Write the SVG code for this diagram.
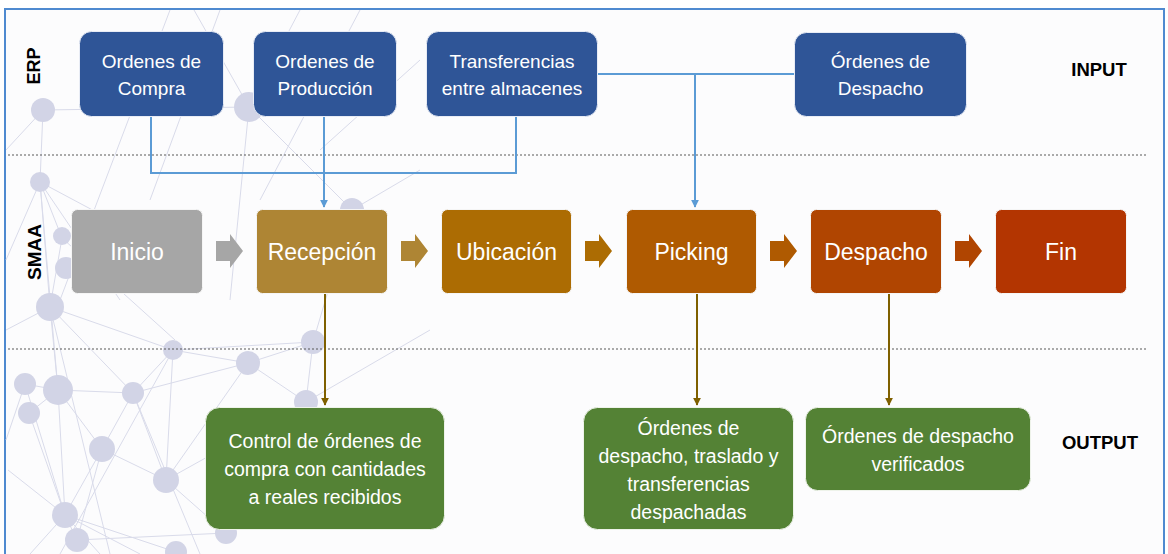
<svg xmlns="http://www.w3.org/2000/svg" width="1168" height="554" viewBox="0 0 1168 554">
  <defs>
    <style>
      .bg-line { stroke: #d9dbea; stroke-width: 1; fill: none; }
      .bg-node { fill: #d2d4e6; }
      .erp rect { fill: #2f5597; stroke: #e8ecf5; stroke-width: 1; }
      .out rect { fill: #548235; stroke: #eef3ea; stroke-width: 1; }
      .step rect { stroke: #f5f5f5; stroke-width: 1; }
      .t { font-family: "Liberation Sans", Arial, sans-serif; fill: #ffffff; text-anchor: middle; }
      .t19 { font-size: 19px; }
      .t23 { font-size: 23px; }
      .t195 { font-size: 19.5px; }
      .lbl { font-family: "Liberation Sans", Arial, sans-serif; font-weight: bold; fill: #000000; text-anchor: middle; }
      .blue { stroke: #5b9bd5; stroke-width: 2; fill: none; }
      .brown { stroke: #7f6000; stroke-width: 2; fill: none; }
      .dash { stroke: #595959; stroke-width: 1.2; stroke-dasharray: 2 2; fill: none; }
    </style>
    <marker id="arrBlue" viewBox="0 0 10 10" refX="9" refY="5" markerWidth="4" markerHeight="4.5" orient="auto" markerUnits="strokeWidth">
      <path d="M0,0 L10,5 L0,10 Z" fill="#5b9bd5"/>
    </marker>
    <marker id="arrBrown" viewBox="0 0 10 10" refX="9" refY="5" markerWidth="4" markerHeight="4.5" orient="auto" markerUnits="strokeWidth">
      <path d="M0,0 L10,5 L0,10 Z" fill="#7f6000"/>
    </marker>
    <path id="blockArrow" d="M0,-10 H14 V-17 L27,0 L14,17 V10 H0 Z"/>
  </defs>

  <!-- background -->
  <rect x="0" y="0" width="1168" height="554" fill="#ffffff"/>
  <rect x="5" y="9" width="1159" height="560" fill="#fcfcfd" stroke="#4f8ad0" stroke-width="2"/>

  <g id="background-network">
    <path class="bg-line" d="M43,110 L249,107 M43,110 L40,182 M43,110 L6,150 M249,107 L194,10 M249,107 L300,10 M249,107 L352,210 M249,107 L230,300 M40,182 L62,238 M40,182 L50,307 M40,182 L58,390 M40,182 L130,230 M62,238 L50,307 M50,307 L58,390 M50,307 L133,393 M50,307 L173,350 M50,307 L6,330 M25,384 L58,390 M58,390 L29,413 M58,390 L133,393 M58,390 L102,449 M58,390 L65,515 M29,413 L65,515 M133,393 L173,350 M133,393 L102,449 M133,393 L248,363 M173,350 L248,363 M173,350 L313,342 M173,350 L166,480 M248,363 L313,342 M248,363 L306,402 M248,363 L166,480 M313,342 L352,210 M102,449 L166,480 M102,449 L65,515 M102,449 L77,540 M166,480 L226,533 M166,480 L306,402 M65,515 L77,540 M65,515 L176,552 M77,540 L226,533 M133,393 L166,480 M25,384 L65,515 M313,342 L306,402 M352,210 L420,170 M306,402 L430,330 M65,515 L8,470 M65,515 L140,554 M65,515 L30,554 M65,515 L100,554 M40,182 L6,260 M50,307 L110,554 M173,350 L60,554 M133,393 L200,554 M220,10 L150,200 M170,10 L60,300 M360,10 L260,200 M320,150 L420,60 M40,182 L120,300 M62,238 L175,340 M25,384 L6,440"/>
    <circle class="bg-node" cx="43" cy="110" r="12"/>
    <circle class="bg-node" cx="249" cy="107" r="15"/>
    <circle class="bg-node" cx="40" cy="182" r="10"/>
    <circle class="bg-node" cx="62" cy="236" r="9"/>
    <circle class="bg-node" cx="66" cy="268" r="11"/>
    <circle class="bg-node" cx="50" cy="307" r="14"/>
    <circle class="bg-node" cx="25" cy="384" r="11"/>
    <circle class="bg-node" cx="58" cy="390" r="15"/>
    <circle class="bg-node" cx="29" cy="413" r="11"/>
    <circle class="bg-node" cx="133" cy="393" r="11"/>
    <circle class="bg-node" cx="173" cy="350" r="10"/>
    <circle class="bg-node" cx="248" cy="363" r="12"/>
    <circle class="bg-node" cx="313" cy="342" r="12"/>
    <circle class="bg-node" cx="102" cy="449" r="13"/>
    <circle class="bg-node" cx="166" cy="480" r="13"/>
    <circle class="bg-node" cx="65" cy="515" r="13"/>
    <circle class="bg-node" cx="77" cy="540" r="12"/>
    <circle class="bg-node" cx="306" cy="402" r="12"/>
    <circle class="bg-node" cx="226" cy="533" r="11"/>
    <circle class="bg-node" cx="176" cy="552" r="11"/>
    <circle class="bg-node" cx="352" cy="210" r="12"/>
  </g>

  <!-- lane separators -->
  <g id="lanes">
    <line class="dash" x1="8" y1="155" x2="1148" y2="155"/>
    <line class="dash" x1="8" y1="349" x2="1148" y2="349"/>
  </g>

  <!-- lane labels -->
  <g id="labels">
    <text class="lbl" font-size="18" transform="translate(40,66) rotate(-90)">ERP</text>
    <text class="lbl" font-size="19" transform="translate(41,252) rotate(-90)">SMAA</text>
    <text class="lbl" font-size="18.5" x="1099" y="76">INPUT</text>
    <text class="lbl" font-size="18.5" x="1100" y="449">OUTPUT</text>
  </g>

  <!-- connectors -->
  <g id="connectors">
    <path class="blue" d="M151,117 V173 H516 V117"/>
    <path class="blue" d="M324,117 V207" marker-end="url(#arrBlue)"/>
    <path class="blue" d="M597,74 H794"/>
    <path class="blue" d="M695,74 V207" marker-end="url(#arrBlue)"/>
    <path class="brown" d="M325,293 V405" marker-end="url(#arrBrown)"/>
    <path class="brown" d="M697,293 V405" marker-end="url(#arrBrown)"/>
    <path class="brown" d="M889,293 V405" marker-end="url(#arrBrown)"/>
    <use href="#blockArrow" transform="translate(216,251)" fill="#a6a6a6"/>
    <use href="#blockArrow" transform="translate(401,251)" fill="#ae8534"/>
    <use href="#blockArrow" transform="translate(585,251)" fill="#ac6c03"/>
    <use href="#blockArrow" transform="translate(770,251)" fill="#af5a01"/>
    <use href="#blockArrow" transform="translate(955,251)" fill="#b04501"/>
  </g>

  <!-- ERP input nodes -->
  <g id="erp-compra" class="erp">
    <rect x="79.5" y="31.5" width="144" height="85" rx="12"/>
    <text class="t t19" x="151.5" y="68">Ordenes de</text>
    <text class="t t19" x="151.5" y="95">Compra</text>
  </g>
  <g id="erp-produccion" class="erp">
    <rect x="253.5" y="31.5" width="143" height="85" rx="12"/>
    <text class="t t19" x="325" y="68">Ordenes de</text>
    <text class="t t19" x="325" y="95">Producción</text>
  </g>
  <g id="erp-transferencias" class="erp">
    <rect x="426.5" y="31.5" width="171" height="85" rx="12"/>
    <text class="t t19" x="512" y="68">Transferencias</text>
    <text class="t t19" x="512" y="95">entre almacenes</text>
  </g>
  <g id="erp-despacho" class="erp">
    <rect x="794.5" y="32.5" width="172" height="84" rx="12"/>
    <text class="t t19" x="880.5" y="68">Órdenes de</text>
    <text class="t t19" x="880.5" y="95">Despacho</text>
  </g>

  <!-- SMAA process nodes -->
  <g id="step-inicio" class="step">
    <rect x="71.5" y="209.5" width="131" height="84" rx="6" fill="#a6a6a6"/>
    <text class="t t23" x="137" y="260" fill="#f2f2f2">Inicio</text>
  </g>
  <g id="step-recepcion" class="step">
    <rect x="256.5" y="209.5" width="131" height="84" rx="6" fill="#ae8534"/>
    <text class="t t23" x="322" y="260">Recepción</text>
  </g>
  <g id="step-ubicacion" class="step">
    <rect x="441.5" y="209.5" width="130" height="84" rx="6" fill="#ac6c03"/>
    <text class="t t23" x="506.5" y="260">Ubicación</text>
  </g>
  <g id="step-picking" class="step">
    <rect x="626.5" y="209.5" width="130" height="84" rx="6" fill="#af5a01"/>
    <text class="t t23" x="691.5" y="260">Picking</text>
  </g>
  <g id="step-despacho" class="step">
    <rect x="810.5" y="209.5" width="131" height="84" rx="6" fill="#b04501"/>
    <text class="t t23" x="876" y="260">Despacho</text>
  </g>
  <g id="step-fin" class="step">
    <rect x="995.5" y="209.5" width="131" height="84" rx="6" fill="#b33501"/>
    <text class="t t23" x="1061" y="260">Fin</text>
  </g>

  <!-- Output nodes -->
  <g id="out-control" class="out">
    <rect x="205.5" y="407.5" width="239" height="122" rx="14"/>
    <text class="t t195" x="325" y="448">Control de órdenes de</text>
    <text class="t t195" x="325" y="476">compra con cantidades</text>
    <text class="t t195" x="325" y="504">a reales recibidos</text>
  </g>
  <g id="out-ordenes-despachadas" class="out">
    <rect x="583.5" y="407.5" width="210" height="122" rx="14"/>
    <text class="t t195" x="688.5" y="435">Órdenes de</text>
    <text class="t t195" x="688.5" y="463">despacho, traslado y</text>
    <text class="t t195" x="688.5" y="491">transferencias</text>
    <text class="t t195" x="688.5" y="519">despachadas</text>
  </g>
  <g id="out-verificados" class="out">
    <rect x="805.5" y="407.5" width="225" height="83" rx="12"/>
    <text class="t t195" x="918" y="443">Órdenes de despacho</text>
    <text class="t t195" x="918" y="471">verificados</text>
  </g>
</svg>
